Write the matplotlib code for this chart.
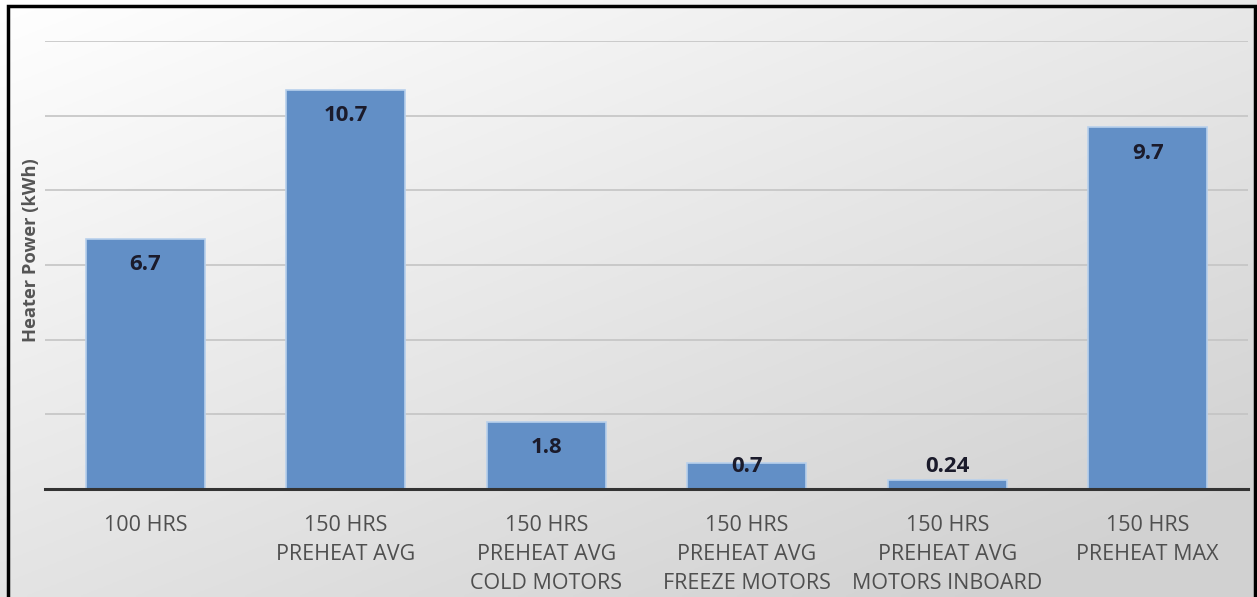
import numpy as np
import matplotlib
matplotlib.use("Agg")
import matplotlib.pyplot as plt
from matplotlib.patches import Rectangle

categories = ["100 HRS", "150 HRS\nPREHEAT AVG", "150 HRS\nPREHEAT AVG\nCOLD MOTORS",
              "150 HRS\nPREHEAT AVG\nFREEZE MOTORS", "150 HRS\nPREHEAT AVG\nMOTORS INBOARD",
              "150 HRS\nPREHEAT MAX"]
values = [6.7, 10.7, 1.8, 0.7, 0.24, 9.7]
value_labels = ["6.7", "10.7", "1.8", "0.7", "0.24", "9.7"]
ylabel = "Heater Power (kWh)"

W, H = 1257, 597
fig = plt.figure(figsize=(W / 100, H / 100), dpi=100)

# background gradient
bg = fig.add_axes([0, 0, 1, 1])
yy, xx = np.mgrid[0:1:200j, 0:1:400j]
g = 1.0 - 0.18 * np.clip(0.6 * yy + 0.5 * xx, 0, 1)
bg.imshow(np.dstack([g, g, g]), extent=[0, 1, 0, 1], aspect="auto", origin="upper",
          vmin=0, vmax=1)
bg.set_xlim(0, 1); bg.set_ylim(0, 1); bg.axis("off")
# border
bg.add_patch(Rectangle((8 / W, -0.01), (1255 - 8) / W, (H - 6) / H + 0.01,
                       fill=False, edgecolor="black", lw=2.5,
                       transform=bg.transAxes))

# plot area: x 45..1248, y 41..489 (pixels from top)
ax = fig.add_axes([45 / W, (H - 489) / H, (1248 - 45) / W, (489 - 41) / H])
ax.patch.set_alpha(0)
x = np.arange(len(categories))
ax.bar(x, values, width=0.595, color="#628fc6", edgecolor="#b8d0ec", linewidth=1.2, zorder=3)
ax.set_xlim(-0.5, len(categories) - 0.5)
ax.set_ylim(0, 12)
ax.set_yticks(np.arange(2, 13, 2))
ax.yaxis.grid(True, color="#c4c4c4", lw=1.2, zorder=0)
ax.tick_params(axis="y", left=False, labelleft=False)
ax.tick_params(axis="x", bottom=False, pad=15)
for s in ["top", "right", "left"]:
    ax.spines[s].set_visible(False)
ax.spines["bottom"].set_color("#333333")
ax.spines["bottom"].set_linewidth(2.2)
ax.spines["bottom"].set_zorder(4)
ax.set_xticks(x)
ax.set_xticklabels(categories, fontsize=15.5, color="#4f4f4f", family="Open Sans",
                   linespacing=1.5, va="top")

for xi, v, lab in zip(x, values, value_labels):
    ax.text(xi, max(v - 0.7, 0.6), lab, ha="center", va="center", fontsize=16,
            fontweight="bold", color="#1b1b2b", family="Open Sans", zorder=5)

fig.text(31 / W, 1 - 250 / H, ylabel, rotation=90, ha="center", va="center",
         fontsize=13.2, fontweight="bold", color="#555555", family="Open Sans")

fig.savefig("out.png", dpi=100)
